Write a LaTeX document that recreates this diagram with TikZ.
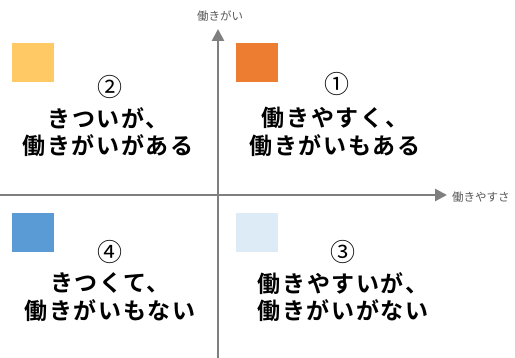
\documentclass[tikz,border=0pt]{standalone}
\usepackage{fontspec}
\newfontfamily\cjk{Noto Sans CJK JP}
\newfontfamily\cjkb[LetterSpace=7]{Noto Sans CJK JP Bold}
\usetikzlibrary{arrows.meta}
\definecolor{axisgray}{HTML}{7F7F7F}
\definecolor{labgray}{HTML}{595959}
\definecolor{qone}{HTML}{ED7D31}
\definecolor{qtwo}{HTML}{FFC966}
\definecolor{qthree}{HTML}{DDEBF7}
\definecolor{qfour}{HTML}{5B9BD5}
\tikzset{
  axis/.style={draw=axisgray, line width=2.6pt, -{Triangle[length=12pt,width=12pt]}},
  axlabel/.style={font=\cjk\fontsize{11.5}{13}\selectfont, text=labgray, inner sep=0pt},
  swatch/.style={minimum width=42pt, minimum height=39pt, inner sep=0pt, draw=none},
  numlabel/.style={font=\cjk\fontsize{25}{27}\selectfont, inner sep=0pt},
  quadtext/.style={font=\cjkb\fontsize{23}{27.5}\selectfont, align=center, inner sep=0pt}
}
\begin{document}
\begin{tikzpicture}[x=1pt,y=-1pt]
\useasboundingbox (0,0) rectangle (515,358);
\fill[white] (0,0) rectangle (515,358);
% axes
\coordinate (xs) at (0,195);
\coordinate (xe) at (447,195);
\coordinate (ys) at (218,358);
\coordinate (ye) at (218,29);
\draw[axis] (xs) -- (xe);
\draw[axis] (ys) -- (ye);
\node[axlabel] (ylab) at (220,16) {働きがい};
\node[axlabel, anchor=west] (xlab) at (452,197) {働きやすさ};
% swatches
\node[swatch, fill=qtwo] (s2) at (33,63) {};
\node[swatch, fill=qone] (s1) at (257,63) {};
\node[swatch, fill=qfour] (s4) at (33,233) {};
\node[swatch, fill=qthree] (s3) at (257,233) {};
% quadrant texts
\node[numlabel] (n2) at (110,87) {②};
\node[quadtext] (t2) at (108,132) {きついが、\\働きがいがある};
\node[numlabel] (n1) at (337,84) {①};
\node[quadtext] (t1) at (335,132) {働きやすく、\\働きがいもある};
\node[numlabel] (n4) at (110,252) {④};
\node[quadtext] (t4) at (110,297) {きつくて、\\働きがいもない};
\node[numlabel] (n3) at (343,252) {③};
\node[quadtext] (t3) at (343,297) {働きやすいが、\\働きがいがない};
\end{tikzpicture}
\end{document}
